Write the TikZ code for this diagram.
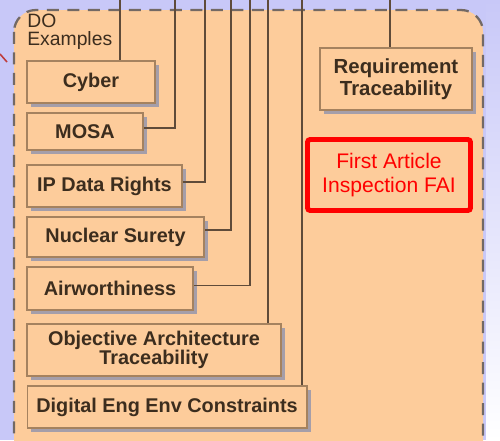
\documentclass[tikz,border=0pt]{standalone}
\usepackage{fontspec}
\setmainfont{Liberation Sans}
\usetikzlibrary{shadows}

\definecolor{lavback}{RGB}{200,200,248}
\definecolor{panelfill}{RGB}{253,204,155}
\definecolor{panelrule}{RGB}{115,105,100}
\definecolor{boxline}{RGB}{165,130,95}
\definecolor{shadowc}{RGB}{150,150,172}
\definecolor{wirec}{RGB}{95,75,58}
\definecolor{textc}{RGB}{60,45,30}
\definecolor{linkred}{RGB}{190,60,60}

\begin{document}
\begin{tikzpicture}[x=0.02cm,y=-0.02cm,
  item/.style={inner sep=0pt, draw=boxline, line width=0.6pt,
    fill=panelfill, align=center, text=textc,
    font=\fontsize{11.3}{12.2}\selectfont\bfseries,
    drop shadow={shadow xshift=0.08cm, shadow yshift=-0.08cm,
      fill=shadowc, opacity=0.85}},
  sz/.style 2 args={minimum width=#1cm, minimum height=#2cm},
  wire/.style={draw=wirec, line width=1.1pt}
]
\useasboundingbox (0,0) rectangle (500,440);
\clip (0,0) rectangle (500,440);

% backdrop
\fill[lavback] (0,0) rectangle (500,440);
\shade[top color=lavback, bottom color=white] (486,0) rectangle (500,440);

% dashed group panel
\draw[panelrule, fill=panelfill, line width=1.3pt, rounded corners=0.44cm,
      dash pattern=on 0.24cm off 0.17cm] (14,10) rectangle (483,470);

% group label
\node[anchor=north west, inner sep=0pt, align=left, text=textc,
      font=\fontsize{11}{10}\selectfont] (doex) at (27,14) {DO\\Examples};

% short link entering from the left
\coordinate (lk0) at (0,54);
\coordinate (lk1) at (7,62);
\draw[linkred, line width=0.9pt] (lk0) -- (lk1);

% example boxes
\node[item, sz={2.56}{0.84}] (cyber) at (91,82) {Cyber};
\node[item, sz={2.32}{0.74}] (mosa) at (85,131.5) {MOSA};
\node[item, sz={3.10}{0.84}] (ipdr) at (104.5,186) {IP Data Rights};
\node[item, sz={3.54}{0.80}] (nuc) at (115.5,237) {Nuclear Surety};
\node[item, sz={3.32}{0.86}] (air) at (110,288.5) {Airworthiness};
\node[item, sz={5.08}{1.04}, font=\fontsize{11.3}{11}\selectfont\bfseries] (oat) at (154,350) {Objective Architecture\\Traceability};
\node[item, sz={5.60}{0.84}] (deec) at (167,407) {Digital Eng Env Constraints};
\node[item, sz={3.04}{1.24}, font=\fontsize{11.6}{12.5}\selectfont\bfseries] (req) at (396,79) {Requirement\\Traceability};

% highlighted item
\node[sz={3.26}{1.42}, inner sep=0pt, draw=red, line width=2.8pt,
      rounded corners=1.5pt, fill=panelfill, text=red, align=center,
      font=\fontsize{12}{14}\selectfont] (fai) at (389,175) {First Article\\Inspection FAI};

% feeder lines from above
\coordinate (t1) at (120,0);
\coordinate (t2) at (175,0);
\coordinate (t3) at (205,0);
\coordinate (t4) at (231,0);
\coordinate (t5) at (250,0);
\coordinate (t6) at (268,0);
\coordinate (t7) at (302,0);
\coordinate (t8) at (390,0);

\draw[wire] (t1) -- (t1 |- cyber.north);
\draw[wire] (t2) |- ([yshift=0.07cm]mosa.east);
\draw[wire] (t3) |- ([yshift=0.08cm]ipdr.east);
\draw[wire] (t4) |- ([yshift=0.14cm]nuc.east);
\draw[wire] (t5) |- ([yshift=0.06cm]air.east);
\draw[wire] (t6) -- (t6 |- oat.north);
\draw[wire] (t7) -- (t7 |- deec.north);
\draw[wire] (t8) -- (t8 |- req.north);
\end{tikzpicture}
\end{document}
